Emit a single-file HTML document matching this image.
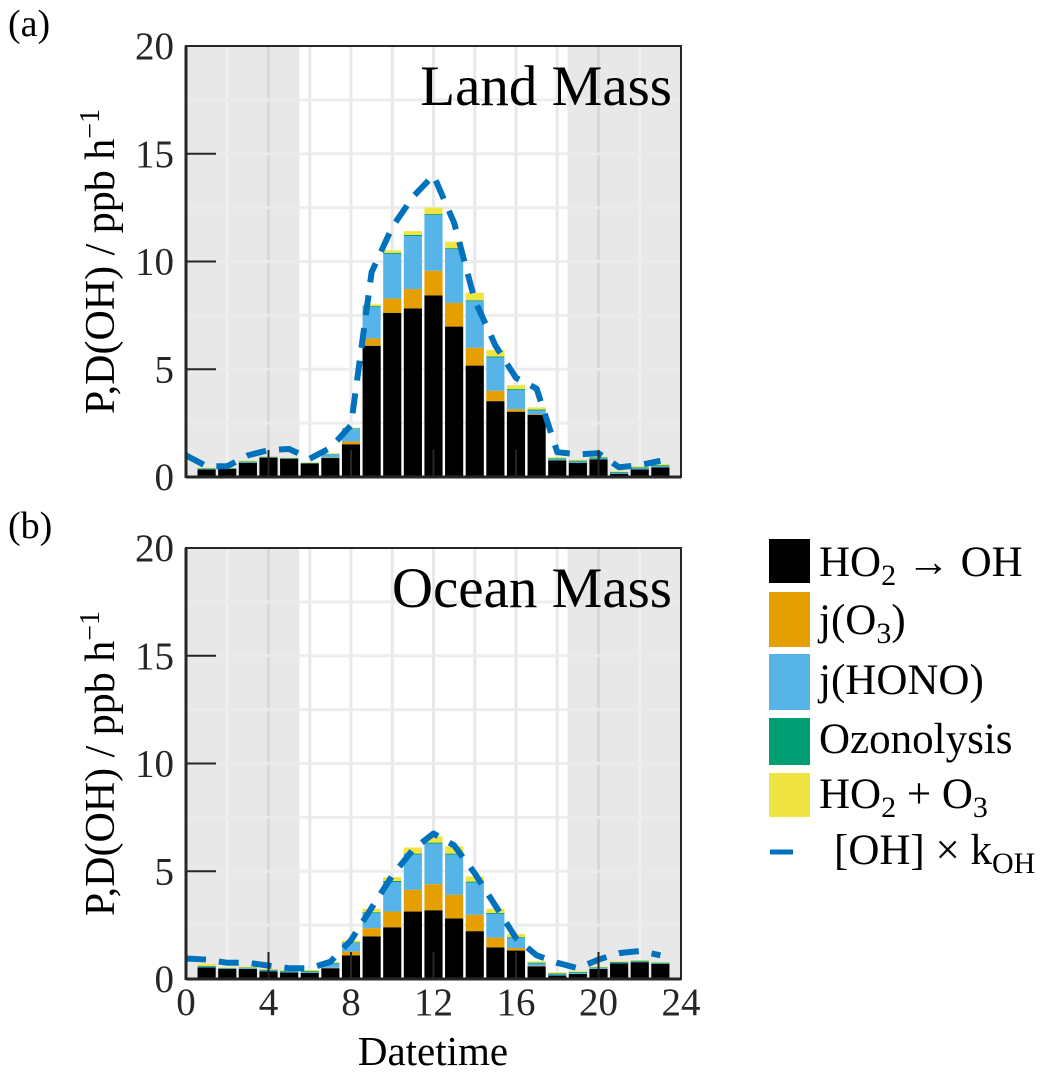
<!DOCTYPE html>
<html><head><meta charset="utf-8"><style>
html,body{margin:0;padding:0;background:#fff;}
svg{display:block;font-family:"Liberation Serif",serif;}
</style></head><body>
<svg id="chart" width="1062" height="1083" viewBox="0 0 1062 1083" xmlns="http://www.w3.org/2000/svg">
</svg>
<script>
const hours = [1,2,3,4,5,6,7,8,9,10,11,12,13,14,15,16,17,18,19,20,21,22,23];
const lineHours = [0,1,2,3,4,5,6,7,8,9,10,11,12,13,14,15,16,17,18,19,20,21,22,23];
const xTicks = [0,4,8,12,16,20,24];
const yTicks = [0,5,10,15,20];
// Panel a (Land Mass)
const aBlack = [0.35,0.38,0.65,0.9,0.85,0.63,0.88,1.52,6.09,7.62,7.82,8.43,6.98,5.17,3.52,3.03,2.89,0.77,0.66,0.82,0.15,0.35,0.45];
const aO3 = [0,0,0,0,0,0,0.02,0.13,0.34,0.66,0.9,1.14,1.1,0.83,0.48,0.12,0.03,0,0,0,0,0,0];
const aHONO = [0.02,0.01,0.03,0.02,0.01,0.01,0.15,0.58,1.46,2.07,2.46,2.58,2.49,2.15,1.54,0.88,0.16,0.05,0.05,0.04,0.04,0.05,0.05];
const aOzo = [0.03,0.02,0.04,0.02,0.02,0.02,0.02,0.03,0.04,0.05,0.05,0.05,0.05,0.05,0.05,0.05,0.05,0.05,0.05,0.05,0.04,0.05,0.05];
const aHO2O3 = [0.03,0.02,0.03,0.02,0.02,0.02,0.03,0.03,0.08,0.12,0.18,0.3,0.3,0.35,0.3,0.18,0.1,0.05,0.04,0.03,0.03,0.04,0.05];
const aOH = [1.0,0.5,0.5,1.0,1.25,1.3,0.85,1.35,2.4,9.5,11.6,13.0,14.0,11.8,8.2,6.1,4.6,4.1,1.15,1.05,1.1,0.45,0.55,0.75];
// Panel b (Ocean Mass)
const bBlack = [0.54,0.47,0.47,0.36,0.3,0.28,0.5,1.09,1.98,2.4,3.13,3.19,2.81,2.22,1.47,1.32,0.59,0.16,0.23,0.47,0.73,0.78,0.7];
const bO3 = [0,0,0,0,0,0,0.02,0.18,0.38,0.73,1.01,1.21,1.1,0.76,0.45,0.12,0.02,0,0,0,0,0,0];
const bHONO = [0.03,0.02,0.03,0.03,0.04,0.05,0.18,0.39,0.69,1.37,1.63,1.88,1.86,1.49,1.1,0.45,0.1,0.05,0.05,0.03,0.02,0.03,0.02];
const bOzo = [0.04,0.02,0.03,0.04,0.04,0.04,0.04,0.04,0.05,0.05,0.05,0.05,0.05,0.05,0.05,0.05,0.05,0.05,0.04,0.04,0.04,0.04,0.04];
const bHO2O3 = [0.09,0.03,0.04,0.04,0.04,0.05,0.04,0.08,0.16,0.18,0.28,0.29,0.34,0.24,0.19,0.15,0.06,0.05,0.04,0.03,0.03,0.03,0.03];
const bOH = [0.95,0.9,0.75,0.75,0.62,0.5,0.5,0.8,1.8,3.3,4.8,6.0,6.75,6.2,4.9,3.4,1.9,1.1,0.75,0.5,0.9,1.2,1.3,1.1];

const NS = "http://www.w3.org/2000/svg";
const svg = document.getElementById('chart');
const colors = ['#000000','#E69F00','#56B4E9','#009E73','#F0E442'];
const X0 = 186, X1 = 681;
function xs(h){ return X0 + (X1 - X0) * h / 24; }
function mk(tag, attrs, parent){
  const e = document.createElementNS(NS, tag);
  for (const k in attrs) e.setAttribute(k, attrs[k]);
  (parent || svg).appendChild(e);
  return e;
}
function panel(top, bottom, series, oh, title, label, name){
  const ys = v => bottom - (bottom - top) * v / 20;
  const g = mk('g', {});
  
  
  const bg = mk('rect', {x:X0, y:top, width:X1-X0, height:bottom-top, fill:'#fff'}, g);
  
  
  [[0,5.5],[18.5,24]].forEach(r => {
    const s = mk('rect', {x:xs(r[0]), y:top, width:xs(r[1])-xs(r[0]), height:bottom-top, fill:'#e8e8e8'}, g);
    
    
  });
  for (let h = 2; h < 24; h += 2){
    const night = h < 5.5 || h > 18.5;
    const c = night ? (h % 4 === 0 ? '#d8d8d8' : '#f0f0f0') : '#e8e8e8';
    const l = mk('line', {x1:xs(h), x2:xs(h), y1:top, y2:bottom, stroke:c, 'stroke-width':3}, g);
    
    
  }
  for (let v = 2.5; v < 20; v += 2.5){
    const l = mk('line', {x1:X0, x2:X1, y1:ys(v), y2:ys(v), stroke:'#ebebeb', 'stroke-width':3, 'stroke-opacity':0.9}, g);
    
    
  }
  const bw = (X1 - X0) / 24 * 0.88;
  hours.forEach((h, i) => {
    let base = 0;
    series.forEach((arr, k) => {
      const v = arr[i];
      if (v <= 0) return;
      const r = mk('rect', {x:xs(h)-bw/2, y:ys(base+v), width:bw, height:ys(base)-ys(base+v), fill:colors[k]}, g);
      
      
      base += v;
    });
  });
  let d = '';
  lineHours.forEach((h, i) => { d += (i ? 'L' : 'M') + xs(h).toFixed(1) + ',' + ys(oh[i]).toFixed(1); });
  const p = mk('path', {d:d, fill:'none', stroke:'#0072BD', 'stroke-width':6, 'stroke-dasharray':'20 13', 'stroke-linejoin':'round'}, g);
  
  
  const fr = mk('rect', {x:X0, y:top, width:X1-X0, height:bottom-top, fill:'none', stroke:'#262626', 'stroke-width':2}, g);
  
  
  mk('line', {x1:X0, x2:X0, y1:top, y2:bottom+1, stroke:'#262626', 'stroke-width':3}, g);
  mk('line', {x1:X0, x2:X1, y1:bottom, y2:bottom, stroke:'#262626', 'stroke-width':3}, g);
  yTicks.forEach(v => {
    mk('line', {x1:X0, x2:X0+30, y1:ys(v), y2:ys(v), stroke:'#262626', 'stroke-width':2}, g);
    const t = mk('text', {x:X0-12, y:ys(v)+13, 'text-anchor':'end', 'font-size':39, fill:'#262626'}, g);
    t.textContent = v;
    
    
  });
  xTicks.forEach(h => {
    mk('line', {x1:xs(h), x2:xs(h), y1:bottom, y2:bottom-27, stroke:'#262626', 'stroke-width':2}, g);
  });
  const tt = mk('text', {x:672, y:top+59, 'text-anchor':'end', 'font-size':57, fill:'#000'}, g);
  tt.textContent = title;
  
  
  const pl = mk('text', {x:8, y:top-10, 'font-size':38, fill:'#000'}, g);
  pl.textContent = label;
  
  
  const yl = mk('text', {transform:'translate(114,'+((top+bottom)/2)+') rotate(-90)', 'text-anchor':'middle', 'font-size':42, fill:'#000'}, g);
  yl.innerHTML = 'P,D(OH) / ppb h<tspan dy="-15" font-size="28">−1</tspan>';
  
  
}
panel(46, 477, [aBlack,aO3,aHONO,aOzo,aHO2O3], aOH, 'Land Mass', '(a)', 'panel-land-mass');
panel(548, 979, [bBlack,bO3,bHONO,bOzo,bHO2O3], bOH, 'Ocean Mass', '(b)', 'panel-ocean-mass');
xTicks.forEach(h => {
  const t = mk('text', {x:xs(h), y:1015, 'text-anchor':'middle', 'font-size':39, fill:'#262626'});
  t.textContent = h;
  
  
});
const xl = mk('text', {x:433, y:1065, 'text-anchor':'middle', 'font-size':41, fill:'#000'});
xl.textContent = 'Datetime';


// legend
const legTops = [539, 592, 654, 718, 773];
const legLabels = ['HO<tspan dy="9" font-size="30">2</tspan><tspan dy="-9"> → OH</tspan>',
  'j(O<tspan dy="9" font-size="30">3</tspan><tspan dy="-9">)</tspan>',
  'j(HONO)', 'Ozonolysis',
  'HO<tspan dy="9" font-size="30">2</tspan><tspan dy="-9"> + O</tspan><tspan dy="9" font-size="30">3</tspan>'];
const legBase = [576, 634, 694, 753, 808];
const legHeights = [44, 55, 56, 47, 44];
legTops.forEach((t, i) => {
  const r = mk('rect', {x:769, y:t, width:41, height:legHeights[i], fill:colors[i]});
  
  
  const tx = mk('text', {x:819, y:legBase[i], 'font-size':43, fill:'#000'});
  tx.innerHTML = legLabels[i];
  
  
});
const ld = mk('line', {x1:770, x2:793, y1:852, y2:852, stroke:'#0072BD', 'stroke-width':5});


const lt = mk('text', {x:834, y:864, 'font-size':43, fill:'#000'});
lt.innerHTML = '[OH] × k<tspan dy="9" font-size="30">OH</tspan>';


</script>
</body></html>
